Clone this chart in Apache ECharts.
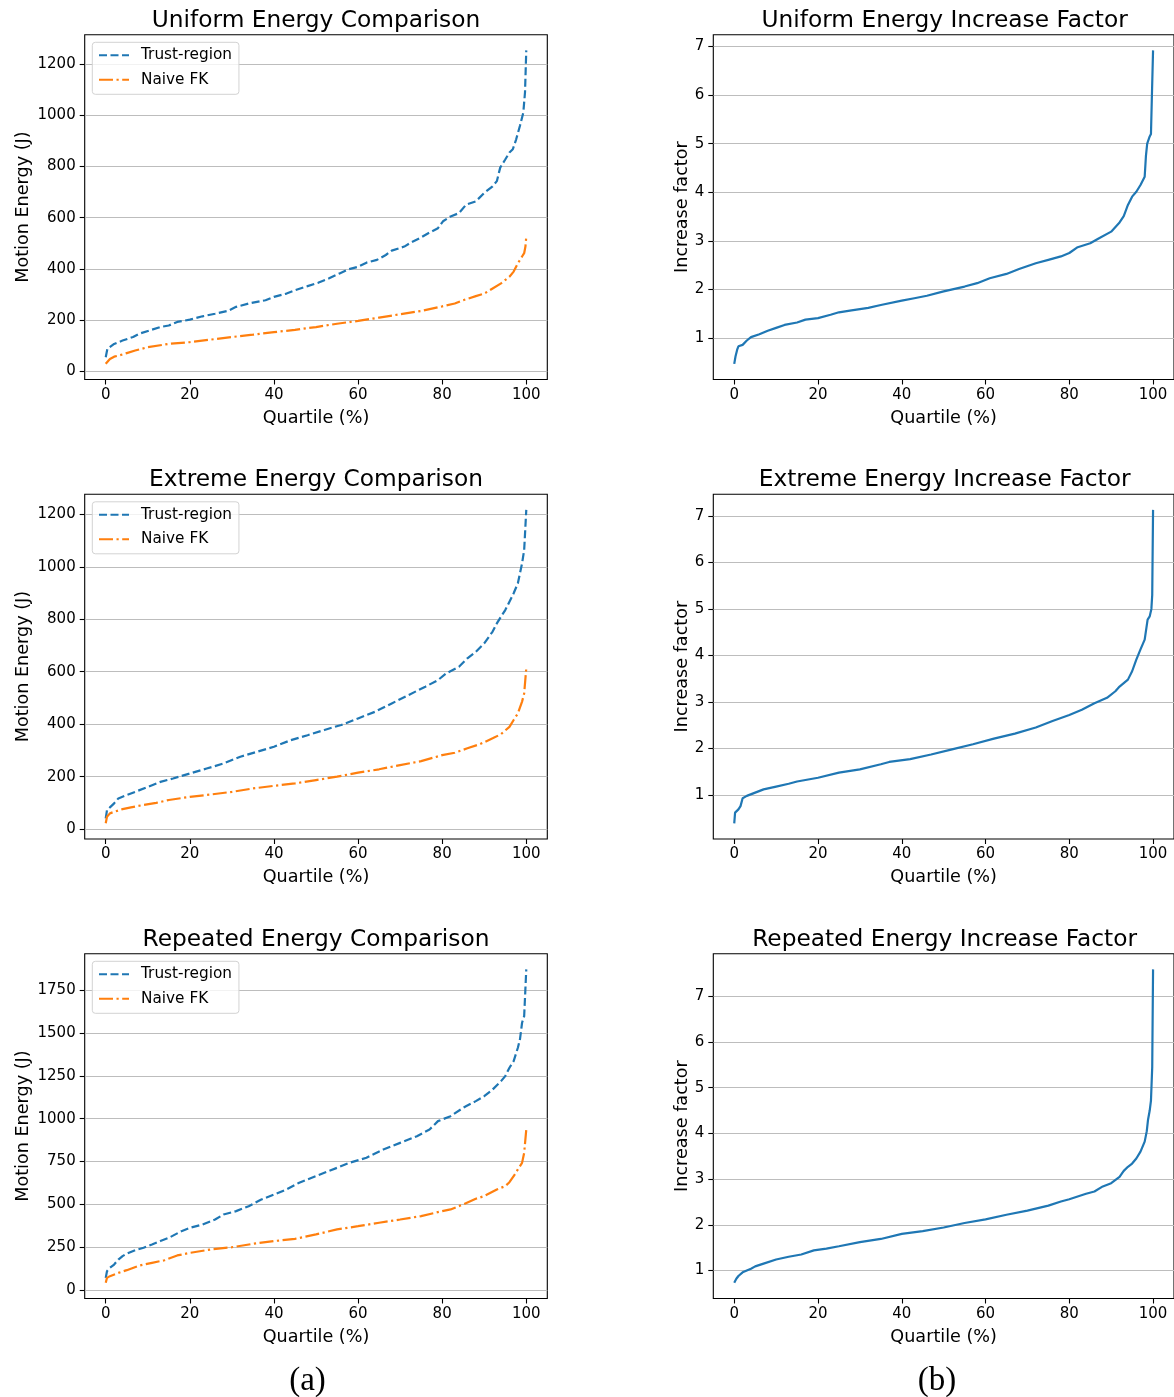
<!DOCTYPE html>
<html>
<head>
<meta charset="utf-8">
<script src="https://cdn.jsdelivr.net/npm/echarts@6/dist/echarts.min.js"></script>
<style>
  html, body { margin: 0; padding: 0; background: #fff; }
  #chart { width: 1174px; height: 1397px; }
</style>
</head>
<body>
<div id="chart"></div>
<script>
// ---- Uniform set ----
const uniTrustPct = [0, 0.4, 2, 4, 6.5, 8, 10.5, 13, 15, 17, 20, 23, 26, 29, 31, 34, 38, 40, 43, 45, 48, 50.5, 53, 55.6, 57.7, 60, 62, 64.5, 66.6, 68, 71, 72.6, 74.7, 76.8, 79, 80.2, 82, 84, 85.7, 88, 90, 92, 93, 93.8, 95, 96, 96.8, 97.6, 98.5, 99.3, 99.7, 100];
const uniTrustVal = [54, 87, 106, 119, 133, 146, 159, 172, 178, 192, 201, 214, 224, 235, 251, 264, 277, 290, 303, 316, 332, 345, 362, 382, 398, 408, 424, 435, 454, 471, 487, 503, 520, 540, 559, 586, 605, 618, 651, 664, 697, 723, 743, 796, 828, 855, 868, 907, 960, 1012, 1091, 1255];
const uniNaivePct = [0, 1, 2, 3, 5, 7, 10, 15, 20, 25, 30, 35, 40, 45, 50, 55, 60, 65, 70, 75, 80, 83, 85, 88, 90, 92, 94, 96, 97, 98, 99, 99.5, 99.8, 100];
const uniNaiveVal = [28, 47, 56, 60, 70, 80, 93, 106, 113, 123, 133, 142, 152, 161, 172, 185, 196, 209, 222, 235, 253, 264, 277, 293, 303, 323, 343, 369, 389, 421, 448, 461, 487, 526];
const uniFactorPct = [0, 0.3, 0.7, 1, 2, 3, 4, 6, 8, 10, 12, 15, 17, 20, 23, 25, 28, 32, 35, 40, 43, 46, 50, 55, 58, 61, 65, 68, 72, 75, 78, 80, 82, 85, 87, 90, 92, 93, 94, 95, 96, 97, 98, 98.3, 98.6, 99.2, 99.5, 99.7, 100];
const uniFactorVal = [0.47, 0.62, 0.76, 0.83, 0.86, 0.95, 1.02, 1.08, 1.15, 1.21, 1.27, 1.32, 1.38, 1.41, 1.48, 1.53, 1.57, 1.62, 1.68, 1.77, 1.82, 1.87, 1.96, 2.06, 2.13, 2.23, 2.32, 2.42, 2.54, 2.61, 2.68, 2.75, 2.87, 2.95, 3.05, 3.19, 3.38, 3.51, 3.74, 3.91, 4.01, 4.15, 4.32, 4.75, 5.0, 5.15, 5.2, 5.9, 6.92];

// ---- Extreme set ----
const extTrustPct = [0, 0.3, 1, 2, 3, 5, 7, 10, 13, 16, 20, 24, 28, 32, 36, 40, 44, 48, 52, 56, 60, 64, 68, 72, 76, 79, 81, 84, 86, 88, 90, 92, 93, 94, 95, 96, 97, 98, 99, 99.5, 100];
const extTrustVal = [41, 72, 83, 98, 117, 130, 142, 161, 180, 193, 212, 231, 250, 276, 295, 314, 339, 358, 378, 397, 422, 447, 479, 511, 543, 568, 594, 619, 651, 676, 708, 753, 784, 810, 835, 867, 899, 937, 1013, 1064, 1217];
const extNaivePct = [0, 0.3, 1, 2, 4, 6, 9, 12, 15, 20, 25, 30, 35, 40, 45, 50, 55, 60, 65, 70, 75, 80, 83, 86, 89, 92, 94, 96, 97, 98, 99, 99.5, 100];
const extNaiveVal = [22, 47, 60, 66, 76, 83, 92, 100, 111, 123, 132, 142, 155, 165, 174, 187, 200, 215, 228, 244, 259, 282, 291, 308, 324, 346, 362, 390, 416, 441, 486, 517, 613];
const extFactorPct = [0, 0.2, 1, 1.5, 2, 3, 5, 7, 10, 13, 15, 20, 25, 30, 35, 37, 42, 47, 52, 57, 62, 67, 72, 76, 80, 83, 86, 89, 91, 92, 94, 95, 96, 97, 98, 98.7, 99.2, 99.6, 99.8, 100];
const extFactorVal = [0.39, 0.62, 0.69, 0.76, 0.93, 0.98, 1.05, 1.12, 1.18, 1.24, 1.29, 1.37, 1.48, 1.55, 1.66, 1.71, 1.77, 1.87, 1.98, 2.09, 2.21, 2.32, 2.45, 2.59, 2.72, 2.83, 2.97, 3.09, 3.23, 3.33, 3.48, 3.66, 3.91, 4.13, 4.34, 4.77, 4.84, 5.0, 5.3, 7.13];

// ---- Repeated set ----
const repTrustPct = [0, 0.3, 1, 2, 3, 4, 5, 7, 9, 11, 13, 15, 18, 20, 23, 26, 28, 31, 34, 37, 40, 43, 46, 50, 55, 58, 62, 66, 70, 74, 77, 79, 82, 85, 88, 90, 92, 94, 95, 96, 97, 98, 98.5, 99, 99.5, 100];
const repTrustVal = [70, 109, 129, 148, 177, 197, 212, 232, 246, 265, 285, 304, 343, 362, 382, 411, 440, 460, 489, 528, 557, 587, 626, 665, 713, 743, 772, 820, 859, 898, 937, 986, 1015, 1064, 1103, 1132, 1171, 1220, 1249, 1298, 1337, 1415, 1464, 1561, 1600, 1873];
const repNaivePct = [0, 0.3, 1, 3, 5, 8, 11, 14, 17, 20, 25, 30, 35, 40, 45, 50, 55, 60, 65, 70, 75, 80, 82, 85, 88, 90, 93, 95, 96, 97, 98, 99, 99.5, 100];
const repNaiveVal = [41, 70, 80, 99, 115, 142, 158, 173, 201, 216, 236, 249, 269, 285, 298, 324, 353, 372, 392, 411, 431, 460, 470, 499, 532, 548, 587, 606, 629, 664, 704, 742, 801, 937];
const repFactorPct = [0, 0.5, 1, 2, 3, 4, 5, 7, 10, 13, 16, 19, 22, 25, 30, 35, 40, 45, 50, 55, 60, 65, 70, 75, 78, 80, 84, 86, 88, 90, 92, 93, 94, 95, 96, 97, 98, 98.5, 98.8, 99.2, 99.5, 99.8, 100];
const repFactorVal = [0.73, 0.82, 0.88, 0.96, 1.0, 1.04, 1.09, 1.15, 1.24, 1.30, 1.35, 1.44, 1.48, 1.53, 1.62, 1.69, 1.80, 1.86, 1.94, 2.04, 2.12, 2.22, 2.31, 2.42, 2.51, 2.56, 2.68, 2.73, 2.84, 2.91, 3.05, 3.18, 3.27, 3.34, 3.45, 3.60, 3.82, 4.05, 4.30, 4.50, 4.72, 5.45, 7.59];

// ---- Labels ----
const comparisonTitles = ['Uniform Energy Comparison', 'Extreme Energy Comparison', 'Repeated Energy Comparison'];
const factorTitles = ['Uniform Energy Increase Factor', 'Extreme Energy Increase Factor', 'Repeated Energy Increase Factor'];
const seriesNames = ['Trust-region', 'Naive FK'];
const xTicks = [0, 20, 40, 60, 80, 100];
const energySteps = [200, 200, 250];
const factorStep = 1;
const panelLabels = ['(a)', '(b)'];

// ---- Layout ----
const FONT = 'DejaVu Sans';
const BLUE = '#1f77b4';
const ORANGE = '#ff7f0e';
const COL_X = [84.7, 713.3];
const ROW_Y = [34.7, 494.2, 953.7];
const PW = 462.6, PH = 344.8;
const TITLE_PAD = 5; // default padding of the title component
const DASHED = [8, 3.5];
const DASHDOT = [14, 3.5, 2.2, 3.5];

const pairs = (xs, ys) => xs.map((x, i) => [x, ys[i]]);
function padded(arrs) {
  const all = [].concat(...arrs);
  const lo = Math.min(...all), hi = Math.max(...all);
  const pad = (hi - lo) * 0.05;
  return [lo - pad, hi + pad];
}

const rows = [
  { trust: pairs(uniTrustPct, uniTrustVal), naive: pairs(uniNaivePct, uniNaiveVal), factor: pairs(uniFactorPct, uniFactorVal) },
  { trust: pairs(extTrustPct, extTrustVal), naive: pairs(extNaivePct, extNaiveVal), factor: pairs(extFactorPct, extFactorVal) },
  { trust: pairs(repTrustPct, repTrustVal), naive: pairs(repNaivePct, repNaiveVal), factor: pairs(repFactorPct, repFactorVal) }
];

const grid = [], xAxis = [], yAxis = [], series = [], title = [], legend = [];
const xStep = xTicks[1] - xTicks[0];
const xPad = (xTicks[xTicks.length - 1] - xTicks[0]) * 0.05;
const plainNumber = v => String(Math.round(v * 1000) / 1000);

function addPanel(col, row, name, yName, step, yRange, nameGapY) {
  const idx = grid.length;
  grid.push({
    left: COL_X[col], top: ROW_Y[row], width: PW, height: PH,
    show: true, borderColor: '#000', borderWidth: 1.1, backgroundColor: 'transparent'
  });
  xAxis.push({
    type: 'value', gridIndex: idx,
    min: xTicks[0] - xPad, max: xTicks[xTicks.length - 1] + xPad,
    minInterval: xStep, maxInterval: xStep,
    axisLine: { show: false, onZero: false },
    axisTick: { show: true, length: 5, lineStyle: { color: '#000', width: 1.1 } },
    axisLabel: { margin: 8, fontSize: 15, color: '#000', fontFamily: FONT, showMinLabel: false, showMaxLabel: false, formatter: plainNumber },
    splitLine: { show: false },
    name: 'Quartile (%)', nameLocation: 'middle', nameGap: 29.5, nameMoveOverlap: false,
    nameTextStyle: { fontSize: 17.6, color: '#000', fontFamily: FONT }
  });
  yAxis.push({
    type: 'value', gridIndex: idx,
    min: yRange[0], max: yRange[1],
    minInterval: step, maxInterval: step,
    axisLine: { show: false, onZero: false },
    axisTick: { show: true, length: 5, lineStyle: { color: '#000', width: 1.1 } },
    axisLabel: { margin: 9, fontSize: 15, color: '#000', fontFamily: FONT, showMinLabel: false, showMaxLabel: false, formatter: plainNumber },
    splitLine: { show: true, showMinLine: false, showMaxLine: false, lineStyle: { color: '#bdbdbd', width: 1.1 } },
    name: yName, nameLocation: 'middle', nameGap: nameGapY, nameRotate: 90, nameMoveOverlap: false,
    nameTextStyle: { fontSize: 17.6, color: '#000', fontFamily: FONT }
  });
  title.push({
    text: name, left: COL_X[col] + PW / 2 - TITLE_PAD, top: ROW_Y[row] - 30.5, textAlign: 'center',
    textStyle: { fontSize: 23.3, fontWeight: 'normal', color: '#000', fontFamily: FONT }
  });
  return idx;
}

rows.forEach((r, row) => {
  const e = addPanel(0, row, comparisonTitles[row], 'Motion Energy (J)', energySteps[row], padded([r.trust.map(p => p[1]), r.naive.map(p => p[1])]), 52.5);
  series.push({
    name: seriesNames[0], type: 'line', xAxisIndex: e, yAxisIndex: e, data: r.trust,
    symbol: 'none', smooth: false, z: 3,
    lineStyle: { color: BLUE, width: 2.2, type: DASHED }, itemStyle: { color: BLUE }
  });
  series.push({
    name: seriesNames[1], type: 'line', xAxisIndex: e, yAxisIndex: e, data: r.naive,
    symbol: 'none', smooth: false, z: 3,
    lineStyle: { color: ORANGE, width: 2.2, type: DASHDOT }, itemStyle: { color: ORANGE }
  });
  legend.push({
    data: seriesNames, orient: 'vertical', left: 92.3, top: ROW_Y[row] + 7.6,
    itemWidth: 30, itemHeight: 14, itemGap: 9.6,
    padding: [5.4, 7, 7, 5.7],
    itemStyle: { opacity: 0 },
    backgroundColor: 'rgba(255,255,255,0.8)', borderColor: '#d3d3d3', borderWidth: 1, borderRadius: 3,
    textStyle: { fontSize: 15.3, color: '#000', fontFamily: FONT, padding: [0, 0, 0, 7] },
    selectedMode: false, z: 10
  });

  const f = addPanel(1, row, factorTitles[row], 'Increase factor', factorStep, padded([r.factor.map(p => p[1])]), 22);
  series.push({
    name: 'Increase factor', type: 'line', xAxisIndex: f, yAxisIndex: f, data: r.factor,
    symbol: 'none', smooth: false, z: 3,
    lineStyle: { color: BLUE, width: 2.2, type: 'solid' }, itemStyle: { color: BLUE }
  });
});

const panelLabelX = [307.5, 937];
panelLabels.forEach((t, i) => {
  title.push({
    text: t, left: panelLabelX[i] - TITLE_PAD, top: 1360, textAlign: 'center',
    textStyle: { fontSize: 33, fontWeight: 'normal', color: '#000', fontFamily: 'Liberation Serif' }
  });
});

const chart = echarts.init(document.getElementById('chart'), null, { renderer: 'canvas' });
chart.setOption({
  animation: false,
  backgroundColor: '#fff',
  textStyle: { fontFamily: FONT },
  title, legend, grid, xAxis, yAxis, series
});
</script>
</body>
</html>
